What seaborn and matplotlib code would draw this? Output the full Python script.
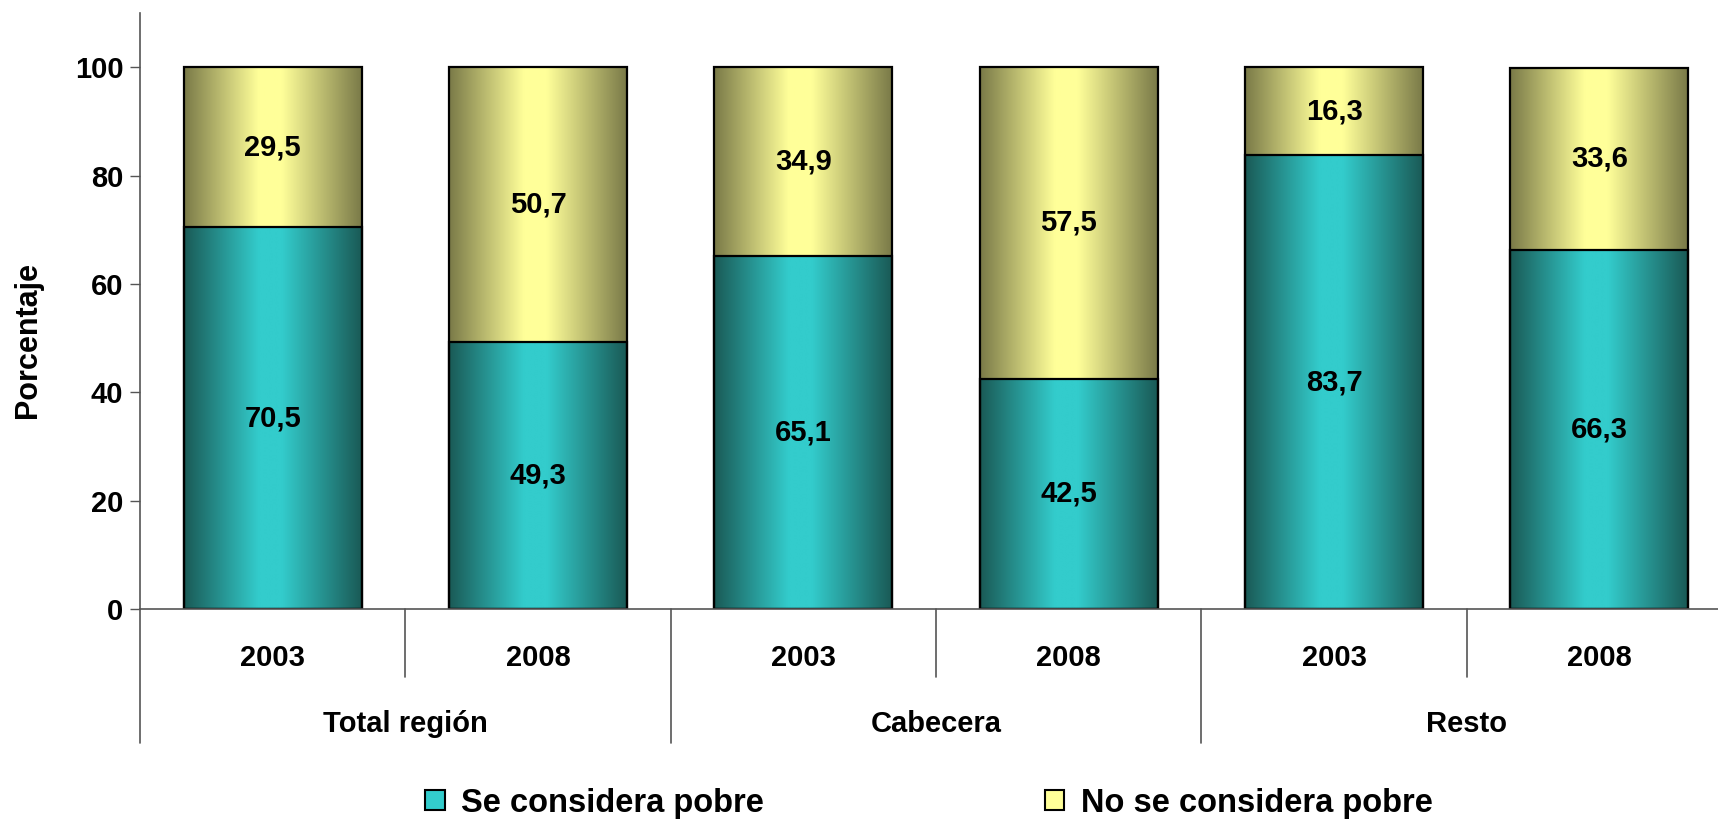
import matplotlib
matplotlib.use("Agg")
from matplotlib import pyplot as plt
from matplotlib.colors import LinearSegmentedColormap
from matplotlib.patches import Patch
import matplotlib.transforms as mtransforms
import numpy as np
import pandas as pd
import seaborn as sns

# data
groups = ["Total región", "Cabecera", "Resto"]
years = ["2003", "2008"]
se_considera = [70.5, 49.3, 65.1, 42.5, 83.7, 66.3]
no_se_considera = [29.5, 50.7, 34.9, 57.5, 16.3, 33.6]
legend_labels = ["Se considera pobre", "No se considera pobre"]

sns.set_style("white")
plt.rcParams["font.family"] = ["Liberation Sans", "DejaVu Sans"]
plt.rcParams["font.weight"] = "bold"
plt.rcParams["text.color"] = "black"
plt.rcParams["axes.labelcolor"] = "black"
plt.rcParams["ytick.color"] = "black"
plt.rcParams["xtick.color"] = "black"

keys = [g + " " + y for g in groups for y in years]
df = pd.DataFrame({
    "key": keys,
    "se": se_considera,
    "no": no_se_considera,
})
df["total"] = df["se"] + df["no"]

teal_cmap = LinearSegmentedColormap.from_list(
    "teal", [(0, "#1a5a56"), (0.42, "#33cccc"), (0.55, "#33cccc"), (1, "#1a5a56")])
yellow_cmap = LinearSegmentedColormap.from_list(
    "yellow", [(0, "#7a7a48"), (0.42, "#ffff99"), (0.55, "#ffff99"), (1, "#7a7a48")])

fig = plt.figure(figsize=(17.18, 8.22), dpi=100)
ax = fig.add_axes([140 / 1718, 213 / 822, 1592 / 1718, 596 / 822])

# yellow (full stack) first, teal on top of it
sns.barplot(data=df, x="key", y="total", order=keys, color="#ffff99",
            width=0.67, edgecolor="black", linewidth=1.6, ax=ax)
sns.barplot(data=df, x="key", y="se", order=keys, color="#33cccc",
            width=0.67, edgecolor="black", linewidth=1.6, ax=ax)

grad = np.linspace(0, 1, 256).reshape(1, -1)
for i, p in enumerate(ax.patches):
    cmap = yellow_cmap if i < len(keys) else teal_cmap
    x0, w = p.get_x(), p.get_width()
    y0, h = p.get_y(), p.get_height()
    ax.imshow(grad, extent=[x0, x0 + w, y0, y0 + h], aspect="auto",
              cmap=cmap, interpolation="bilinear", zorder=0.5 + (0.1 if i >= len(keys) else 0))
    p.set_facecolor("none")
    p.set_zorder(2)

# value labels centred in each segment
for i in range(len(keys)):
    se = df["se"][i]
    no = df["no"][i]
    ax.text(i, se / 2, f"{se:.1f}".replace(".", ","), ha="center", va="center",
            fontsize=21, fontweight="bold", zorder=3)
    ax.text(i, se + no / 2, f"{no:.1f}".replace(".", ","), ha="center", va="center",
            fontsize=21, fontweight="bold", zorder=3)

ax.set_xlim(-0.5, len(keys) - 0.5)
ax.set_ylim(0, 110)
ax.set_yticks(range(0, 101, 20))
ax.tick_params(axis="y", labelsize=21, length=7, width=1, pad=5, color="#555555",
               labelcolor="black", direction="out", left=True)
for lab in ax.get_yticklabels():
    lab.set_fontweight("bold")
ax.set_xticks([])
ax.set_xlabel("")
ax.set_ylabel("Porcentaje", fontsize=22, fontweight="bold")
ax.yaxis.set_label_coords(-0.061, 0.451)

for s in ["top", "right"]:
    ax.spines[s].set_visible(False)
for s in ["left", "bottom"]:
    ax.spines[s].set_color("#555555")
    ax.spines[s].set_linewidth(1.2)

# two-level category axis below the bars
trans = mtransforms.blended_transform_factory(ax.transData, ax.transAxes)
for i in range(len(keys)):
    ax.text(i, -0.082, years[i % 2], transform=trans, ha="center", va="center",
            fontsize=21, fontweight="bold")
for j, g in enumerate(groups):
    ax.text(2 * j + 0.5, -0.193, g, transform=trans, ha="center", va="center",
            fontsize=21, fontweight="bold")
for i in range(len(keys) + 1):
    bound = i - 0.5
    low = -0.225 if i % 2 == 0 else -0.114
    ax.plot([bound, bound], [0, low], transform=trans, color="#555555",
            lw=1.2, clip_on=False)

handles = [Patch(facecolor="#33cccc", edgecolor="black", linewidth=1.5),
           Patch(facecolor="#ffff99", edgecolor="black", linewidth=1.5)]
fig.legend(handles, legend_labels, loc="center", ncol=2,
           bbox_to_anchor=(929 / 1718, 1 - 803 / 822), frameon=False,
           prop={"size": 23.5, "weight": "bold"}, handlelength=0.6, handleheight=0.6,
           handletextpad=0.5, columnspacing=8.6)

fig.savefig("out.png", dpi=100)
